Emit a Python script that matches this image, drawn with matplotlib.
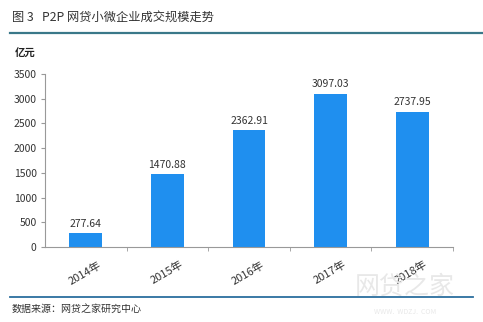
import matplotlib
matplotlib.use("Agg")
import matplotlib.pyplot as plt
from matplotlib.transforms import ScaledTranslation

plt.rcParams['font.family'] = ['Noto Sans CJK SC', 'DejaVu Sans']

years = ["2014年", "2015年", "2016年", "2017年", "2018年"]
volume = [277.64, 1470.88, 2362.91, 3097.03, 2737.95]
yticks = [0, 500, 1000, 1500, 2000, 2500, 3000, 3500]

fig = plt.figure(figsize=(4.83, 3.22), dpi=100)
ax = fig.add_axes([45 / 483, 75 / 322, 408 / 483, 173 / 322])

x = list(range(len(years)))
bars = ax.bar(x, volume, width=0.4, color="#1f8fef", zorder=2)
for xi, v in zip(x, volume):
    ax.text(xi, v + 90, f"{v:.2f}", ha="center", va="bottom",
            fontsize=7.5, color="#333333")

ax.set_xlim(-0.5, len(years) - 0.5)
ax.set_ylim(0, 3500)
ax.set_yticks(yticks)
ax.set_yticklabels([str(t) for t in yticks], fontsize=7.5, color="#333333")
ax.tick_params(axis="y", length=3, color="#999999", pad=3)

ax.set_xticks(x)
ax.set_xticklabels(years, fontsize=8, color="#333333", rotation=30,
                   ha="right", va="top", rotation_mode="anchor")
ax.tick_params(axis="x", length=0, pad=9)
offset = ScaledTranslation(12 / 100, 0, fig.dpi_scale_trans)
for lbl in ax.get_xticklabels():
    lbl.set_transform(lbl.get_transform() + offset)
ax.set_xticks([i + 0.5 for i in x], minor=True)
ax.tick_params(axis="x", which="minor", length=3, color="#999999")

for s in ["top", "right"]:
    ax.spines[s].set_visible(False)
for s in ["left", "bottom"]:
    ax.spines[s].set_color("#999999")
    ax.spines[s].set_linewidth(0.8)

# header and footer
fig.text(12 / 483, 1 - 17 / 322, "图 3   P2P 网贷小微企业成交规模走势",
         fontsize=8.8, color="#333333", va="center", ha="left")
fig.add_artist(plt.Line2D([10 / 483, 1.0], [1 - 33 / 322] * 2,
                          color="#3a7889", linewidth=1.6))
fig.text(15 / 483, 1 - 54 / 322, "亿元", fontsize=7.5, fontweight="bold",
         color="#222222", va="center", ha="left")

# watermark
fig.text(405 / 483, 1 - 287 / 322, "网贷之家", fontsize=18, color="#e8e8e8",
         ha="center", va="center", zorder=0)
fig.text(405 / 483, 1 - 312 / 322, "WWW.  WDZJ.  COM", fontsize=5,
         color="#e8e8e8", ha="center", va="center", zorder=0)

fig.add_artist(plt.Line2D([10 / 483, 473 / 483], [1 - 297 / 322] * 2,
                          color="#2b6e9e", linewidth=1.3))
fig.text(12 / 483, 1 - 309 / 322, "数据来源：网贷之家研究中心", fontsize=7.2,
         color="#333333", va="center", ha="left")

fig.savefig("out.png", dpi=100)
